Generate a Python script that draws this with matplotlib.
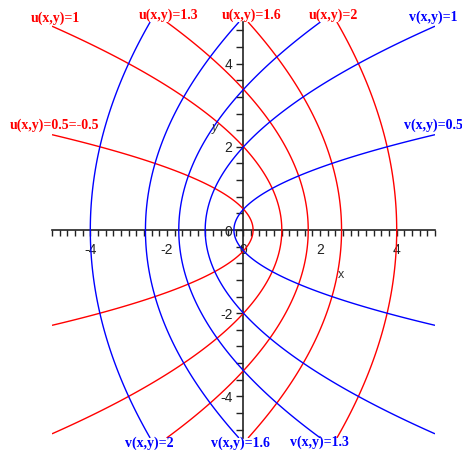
import numpy as np
import matplotlib
matplotlib.use("Agg")
import matplotlib.pyplot as plt
from matplotlib.ticker import MultipleLocator

plt.rcParams['axes.unicode_minus'] = False

# level values of the two families
u_levels = [0.5, 1.0, 1.3, 1.6, 2.0]
v_levels = [0.5, 1.0, 1.3, 1.6, 2.0]

# curve labels and where they sit (data coords)
u_labels = ["u(x,y)=0.5=-0.5", "u(x,y)=1", "u(x,y)=1.3", "u(x,y)=1.6", "u(x,y)=2"]
u_label_pos = [(-4.93, 2.52), (-4.92, 5.10), (-1.95, 5.16), (0.20, 5.16), (2.34, 5.16)]
v_labels = ["v(x,y)=0.5", "v(x,y)=1", "v(x,y)=1.3", "v(x,y)=1.6", "v(x,y)=2"]
v_label_pos = [(4.97, 2.52), (4.96, 5.12), (1.98, -5.10), (-0.09, -5.12), (-2.45, -5.12)]

xtick_labels = [-4, -2, 0, 2, 4]
ytick_labels = [-4, -2, 0, 2, 4]

# u + i v = sqrt(x + i y)
xs = np.linspace(-5, 5, 1201)
ys = np.linspace(-5, 5, 1201)
X, Y = np.meshgrid(xs, ys)
R = np.hypot(X, Y)
U = np.sqrt((X + R) / 2)
V = np.sqrt(np.clip(R - X, 0, None) / 2)

fig = plt.figure(figsize=(4.62, 4.5), dpi=100)
ax = fig.add_axes([52/462, 12/450, 383/462, 416/450])

ax.contour(X, Y, U, levels=u_levels, colors='#ff0000', linewidths=1.0)
ax.contour(X, Y, V, levels=v_levels, colors='#0000ff', linewidths=1.0)

ax.set_xlim(-5, 5)
ax.set_ylim(-5, 5)

for s in ['top', 'right']:
    ax.spines[s].set_visible(False)
ax.spines['left'].set_position(('data', 0))
ax.spines['bottom'].set_position(('data', 0))
for s in ['left', 'bottom']:
    ax.spines[s].set_linewidth(1.2)
    ax.spines[s].set_color('#222222')
    ax.spines[s].set_zorder(0.5)

ax.set_xticks(xtick_labels)
ax.set_yticks(ytick_labels)
ax.xaxis.set_minor_locator(MultipleLocator(0.2))
ax.yaxis.set_minor_locator(MultipleLocator(0.4))
ax.tick_params(axis='x', which='both', direction='out', length=4, width=1, color='#222222', pad=5)
ax.tick_params(axis='y', which='both', direction='out', length=5, width=1, color='#222222', pad=3)
for lab in ax.get_xticklabels() + ax.get_yticklabels():
    lab.set_fontfamily('Liberation Sans')
    lab.set_fontsize(10)
    lab.set_color('#222222')

ax.text(2.55, -1.08, "x", fontsize=9, family='Liberation Sans', color='#333333', ha='center', va='center')
ax.text(-0.74, 2.45, "y", fontsize=9, family='Liberation Sans', color='#333333', style='italic',
        ha='center', va='center')

for txt, (px, py) in zip(u_labels, u_label_pos):
    ax.text(px, py, txt, color='#ff0000', fontsize=10, family='Liberation Serif', weight='bold',
            ha='center', va='center', clip_on=False)
for txt, (px, py) in zip(v_labels, v_label_pos):
    ax.text(px, py, txt, color='#0000ff', fontsize=10, family='Liberation Serif', weight='bold',
            ha='center', va='center', clip_on=False)

fig.savefig("out.png", dpi=100)
